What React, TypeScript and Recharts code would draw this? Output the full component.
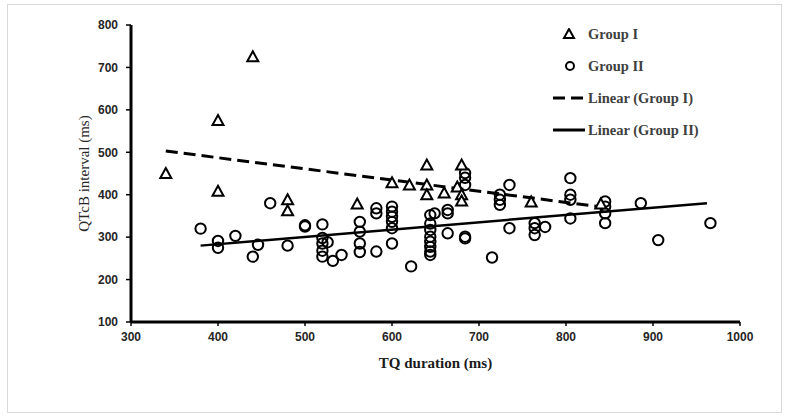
import React from "react";
import { Scatter, ScatterChart, XAxis, YAxis } from "recharts";

// Group I (triangles): TQ duration vs QTcB
const groupIX = [340, 400, 400, 440, 480, 480, 560, 600, 620, 640, 640, 640, 660, 675, 680, 680, 680, 760, 840];
const groupIY = [450, 575, 408, 725, 388, 362, 378, 428, 423, 470, 423, 400, 404, 418, 470, 400, 385, 383, 378];

// Group II (circles)
const groupIIX = [
  380, 400, 400, 420, 440, 446, 460, 480, 500, 500,
  520, 520, 520, 520, 520, 526, 532, 542,
  563, 563, 563, 563, 582, 582, 582,
  600, 600, 600, 600, 600, 600, 622,
  644, 644, 644, 644, 644, 644, 644, 644, 649,
  664, 664, 664, 684, 684, 684, 684, 684,
  715, 724, 724, 724, 735, 735, 764, 764, 764, 776,
  805, 805, 805, 805, 845, 845, 845, 845, 886, 906, 966,
];
const groupIIY = [
  320, 291, 275, 303, 254, 282, 380, 280, 325, 328,
  330, 298, 285, 268, 254, 288, 244, 258,
  336, 313, 285, 265, 368, 356, 266,
  372, 360, 348, 336, 321, 285, 231,
  352, 332, 317, 301, 289, 277, 266, 258, 356,
  364, 356, 309, 451, 440, 423, 301, 297,
  252, 400, 388, 376, 423, 321, 333, 321, 305, 324,
  439, 400, 388, 344, 384, 372, 356, 333, 380, 293, 333,
];

// trend line end points
const trendIX = [340, 838];
const trendIY = [503, 372];
const trendIIX = [380, 962];
const trendIIY = [280, 380];

const xTicks = [300, 400, 500, 600, 700, 800, 900, 1000];
const yTicks = [100, 200, 300, 400, 500, 600, 700, 800];

const zip = (xs: number[], ys: number[]) => xs.map((x, i) => ({ x, y: ys[i] }));

const serif = "'Liberation Serif', 'Times New Roman', serif";
const sans = "'Liberation Sans', Arial, sans-serif";

const Triangle = (props: any) => {
  const { cx, cy } = props;
  if (cx == null || cy == null) return <g />;
  return (
    <path
      d={`M${cx},${cy - 5.5} L${cx + 5.5},${cy + 4.5} L${cx - 5.5},${cy + 4.5} Z`}
      fill="#fff"
      stroke="#000"
      strokeWidth={2}
    />
  );
};

const Circle = (props: any) => {
  const { cx, cy } = props;
  if (cx == null || cy == null) return <g />;
  return <circle cx={cx} cy={cy} r={5.2} fill="none" stroke="#000" strokeWidth={2} />;
};

const Nothing = () => <g />;

const legendText: React.CSSProperties = {
  fontFamily: serif,
  fontWeight: "bold",
  fontSize: 14.5,
  color: "#404040",
  marginLeft: 3,
  whiteSpace: "nowrap",
};

const legendItems = [
  { label: "Group I", icon: <path d="M16,1 L21,10 L11,10 Z" fill="#fff" stroke="#000" strokeWidth={2} /> },
  { label: "Group II", icon: <circle cx={17} cy={6} r={4} fill="#fff" stroke="#000" strokeWidth={2} /> },
  { label: "Linear (Group I)", icon: <path d="M0,6 L32,6" stroke="#000" strokeWidth={3} strokeDasharray="12 6" /> },
  { label: "Linear (Group II)", icon: <path d="M0,6 L32,6" stroke="#000" strokeWidth={3} /> },
];

const LegendBox = () => (
  <div style={{ position: "absolute", left: 553, top: 18 }}>
    {legendItems.map((item) => (
      <div key={item.label} style={{ display: "flex", alignItems: "center", height: 32 }}>
        <svg width={32} height={12} style={{ display: "block" }}>
          {item.icon}
        </svg>
        <span style={legendText}>{item.label}</span>
      </div>
    ))}
  </div>
);

export default function App() {
  return (
    <div style={{ position: "absolute", left: 0, top: 0, width: 787, height: 417, background: "#fff" }}>
      <div
        style={{
          position: "absolute",
          left: 7,
          top: 4,
          width: 773,
          height: 407,
          border: "1px solid #d9d9d9",
        }}
      />
      <div style={{ position: "absolute", left: 0, top: 0 }}>
        <ScatterChart width={787} height={417} margin={{ top: 25, right: 47, bottom: 49, left: 71 }}>
          <XAxis
            type="number"
            dataKey="x"
            domain={[300, 1000]}
            ticks={xTicks}
            allowDataOverflow
            height={46}
            axisLine={{ stroke: "#000", strokeWidth: 3 }}
            tickLine={{ stroke: "#000", strokeWidth: 1.5 }}
            tickSize={4}
            tickMargin={6}
            tick={{ fontFamily: sans, fontWeight: "bold", fontSize: 12, fill: "#262626" }}
            label={{
              value: "TQ duration (ms)",
              position: "insideBottom",
              offset: 0,
              fill: "#1a1a1a",
              style: { fontFamily: serif, fontWeight: "bold", fontSize: 15, fill: "#1a1a1a" },
            }}
          />
          <YAxis
            type="number"
            dataKey="y"
            domain={[100, 800]}
            ticks={yTicks}
            allowDataOverflow
            width={60}
            axisLine={{ stroke: "#000", strokeWidth: 3 }}
            tickLine={{ stroke: "#000", strokeWidth: 1.5 }}
            tickSize={5}
            tickMargin={8}
            tick={{ fontFamily: sans, fontWeight: "bold", fontSize: 12, fill: "#262626" }}
            label={{
              value: "QTcB interval (ms)",
              angle: -90,
              position: "insideLeft",
              offset: 13,
              fill: "#262626",
              style: { fontFamily: serif, fontSize: 15, fill: "#262626", textAnchor: "middle" },
            }}
          />
          <Scatter
            name="Linear (Group I)"
            data={zip(trendIX, trendIY)}
            line={{ stroke: "#000", strokeWidth: 3, strokeDasharray: "12 6" }}
            shape={Nothing}
            isAnimationActive={false}
          />
          <Scatter
            name="Linear (Group II)"
            data={zip(trendIIX, trendIIY)}
            line={{ stroke: "#000", strokeWidth: 2.5 }}
            shape={Nothing}
            isAnimationActive={false}
          />
          <Scatter name="Group II" data={zip(groupIIX, groupIIY)} shape={Circle} isAnimationActive={false} />
          <Scatter name="Group I" data={zip(groupIX, groupIY)} shape={Triangle} isAnimationActive={false} />
        </ScatterChart>
      </div>
      <LegendBox />
    </div>
  );
}
